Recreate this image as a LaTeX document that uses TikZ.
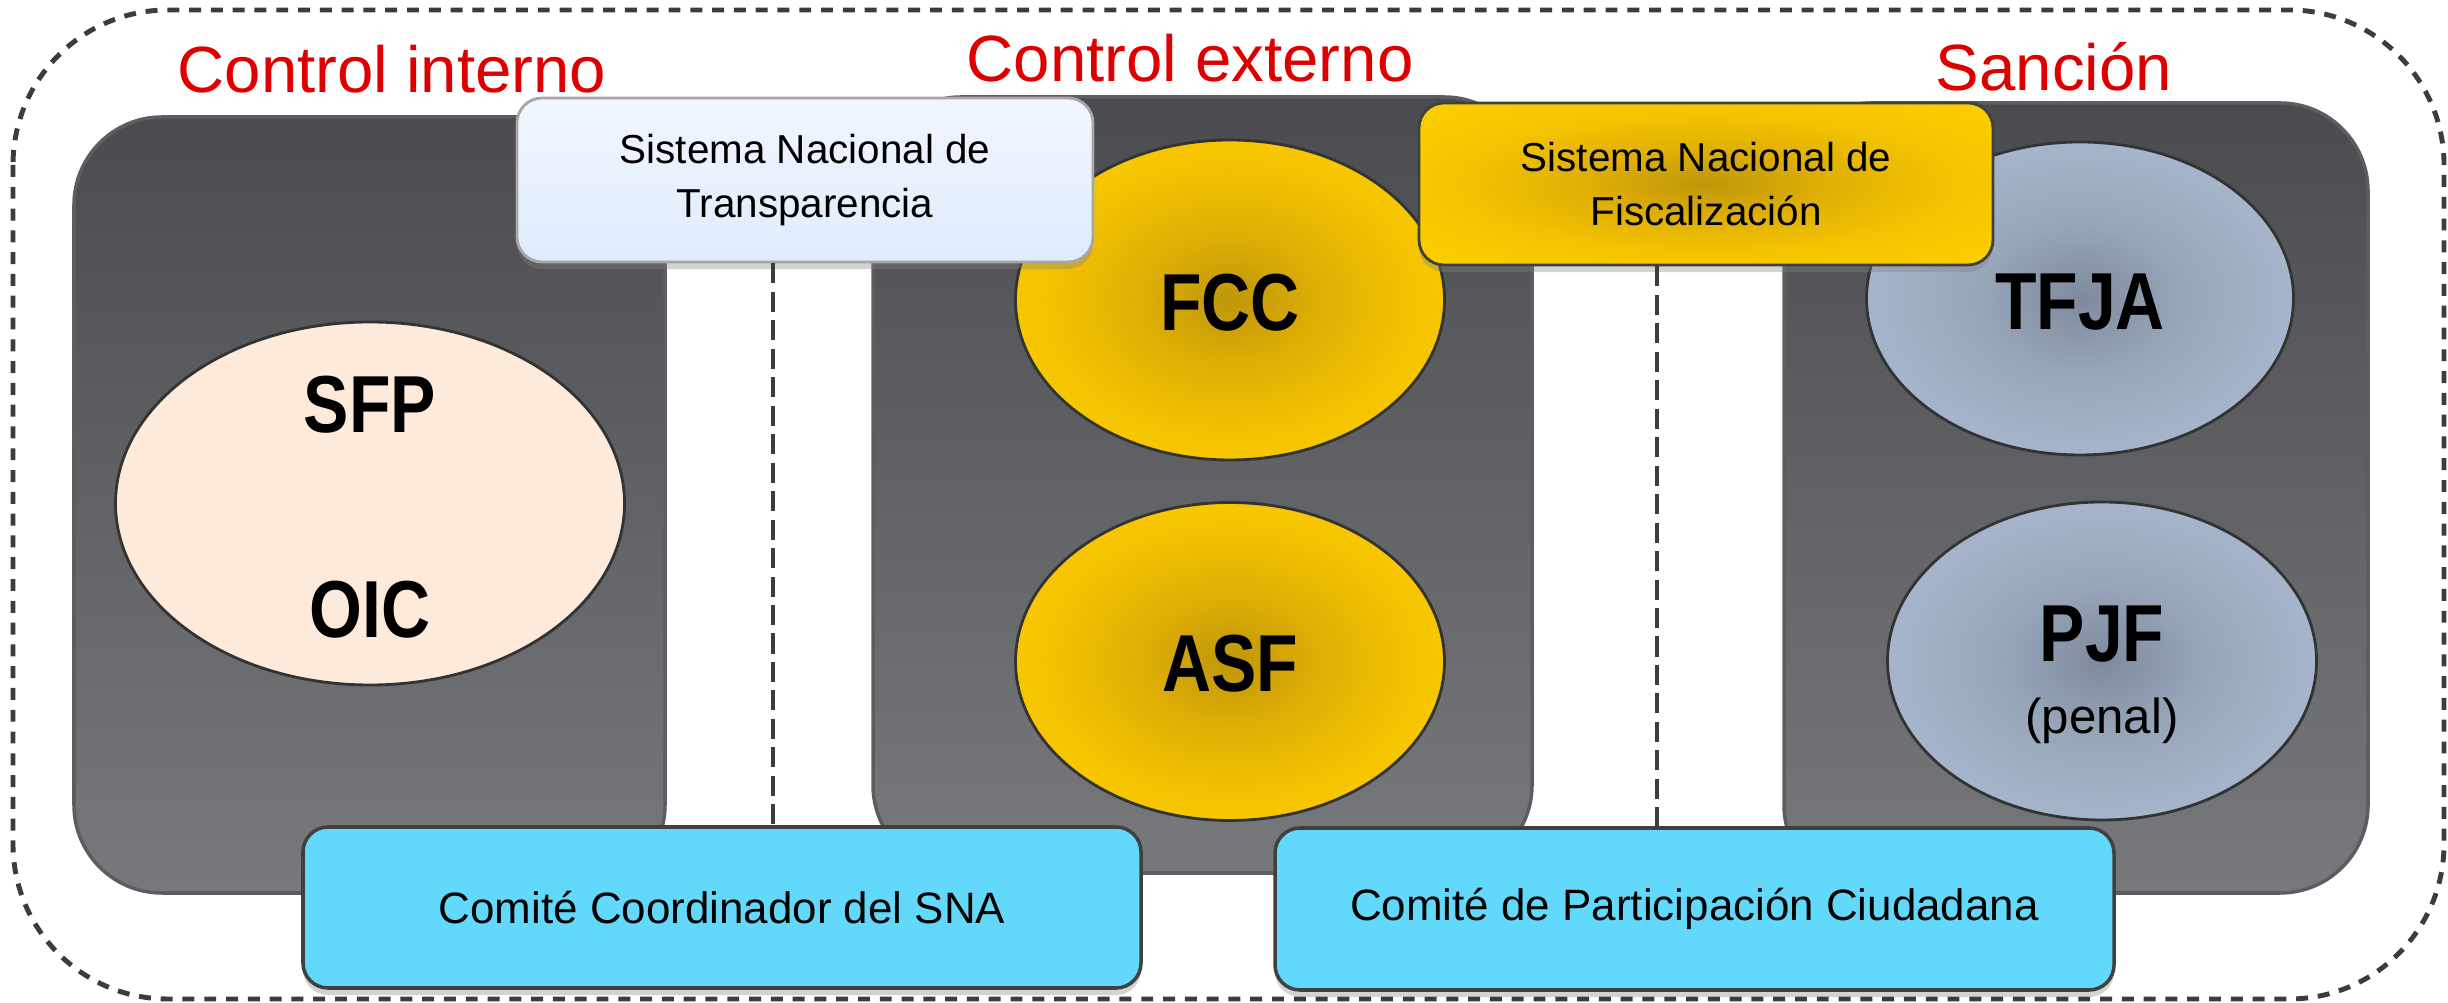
\documentclass[tikz,border=0pt]{standalone}
\usepackage{fontspec}
\setmainfont{Liberation Sans}
\newfontfamily\narrowsans[FakeStretch=0.84]{Liberation Sans}
\usepackage{tikz}
\usetikzlibrary{positioning,shapes.geometric,shadows}

\definecolor{rojoTitulo}{RGB}{222,0,0}
\definecolor{marco}{RGB}{60,60,60}
\definecolor{panelArriba}{RGB}{74,75,78}
\definecolor{panelAbajo}{RGB}{120,121,125}
\definecolor{panelBorde}{RGB}{92,93,96}
\definecolor{durazno}{RGB}{253,234,218}
\definecolor{oroOscuro}{RGB}{190,150,10}
\definecolor{oroMedio}{RGB}{222,174,5}
\definecolor{oroVivo}{RGB}{245,196,0}
\definecolor{oroClaro}{RGB}{255,210,0}
\definecolor{grisAzulOscuro}{RGB}{126,138,156}
\definecolor{grisAzulMedio}{RGB}{152,166,186}
\definecolor{grisAzulVivo}{RGB}{166,181,203}
\definecolor{grisAzulClaro}{RGB}{174,190,212}
\definecolor{celesteArriba}{RGB}{240,246,255}
\definecolor{celesteAbajo}{RGB}{224,235,251}
\definecolor{cian}{RGB}{98,217,251}

\pgfdeclareradialshading{oro}{\pgfpoint{0bp}{0bp}}{color(0bp)=(oroOscuro); color(10bp)=(oroMedio); color(22bp)=(oroVivo); color(38bp)=(oroClaro); color(50bp)=(oroClaro)}
\pgfdeclareradialshading{grisazul}{\pgfpoint{0bp}{0bp}}{color(0bp)=(grisAzulOscuro); color(12bp)=(grisAzulMedio); color(25bp)=(grisAzulVivo); color(40bp)=(grisAzulClaro); color(50bp)=(grisAzulClaro)}

\tikzset{
     heading/.style={anchor=base,text=rojoTitulo,font=\fontsize{18.6}{22}\selectfont},
     groupbox/.style={rectangle,rounded corners=0.88cm,draw=panelBorde,line width=1pt,top color=panelArriba,bottom color=panelAbajo},
     organo/.style={ellipse,draw=black!80,line width=0.8pt},
     sigla/.style={font=\narrowsans\bfseries\fontsize{23}{27}\selectfont},
     sistema/.style={rectangle,rounded corners=0.25cm,align=center,line width=0.8pt,font=\fontsize{11.5}{15.6}\selectfont,drop shadow={shadow xshift=0pt,shadow yshift=-2pt,opacity=.35}},
     comite/.style={rectangle,rounded corners=0.25cm,draw=black!75,line width=1pt,fill=cian,font=\fontsize{12.5}{15}\selectfont,drop shadow={shadow xshift=0pt,shadow yshift=-2pt,opacity=.35}},
     divider/.style={draw=marco,line width=0.9pt,dash pattern=on 5.7pt off 2.4pt}
     }

\begin{document}
\begin{tikzpicture}
            \useasboundingbox (0,0) rectangle (24.48,-10.03);
            % Outer frame
            \draw[marco,line width=1.4pt,dash pattern=on 3.4pt off 2.8pt,rounded corners=1.55cm] (0.13,-0.10) rectangle (24.44,-9.99);
            % Titles
            \node[heading] (tint) at (3.92,-0.93) {Control interno};
            \node[heading] (text) at (11.90,-0.82) {Control externo};
            \node[heading] (tsan) at (20.54,-0.91) {Sanción};
            % Place panels
            \node[groupbox,minimum width=5.91cm,minimum height=7.76cm] (pint) at (3.695,-5.05) {};
            \node[groupbox,minimum width=6.59cm,minimum height=7.76cm] (pext) at (12.025,-4.85) {};
            \node[groupbox,minimum width=5.84cm,minimum height=7.90cm] (psan) at (20.76,-4.98) {};
            % Place ovals
            \node[organo,fill=durazno,minimum width=5.09cm,minimum height=3.63cm] (sfp) at (3.70,-5.035) {};
            \node[organo,shading=oro,minimum width=4.29cm,minimum height=3.20cm] (fcc) at (12.30,-3.00) {};
            \node[organo,shading=oro,minimum width=4.29cm,minimum height=3.18cm] (asf) at (12.30,-6.615) {};
            \node[organo,shading=grisazul,minimum width=4.27cm,minimum height=3.13cm] (tfja) at (20.80,-2.985) {};
            \node[organo,shading=grisazul,minimum width=4.29cm,minimum height=3.18cm] (pjf) at (21.02,-6.61) {};
            % Oval labels
            \node[sigla] (sfptxt) at (3.70,-4.05) {SFP};
            \node[sigla] (oictxt) at (3.70,-6.10) {OIC};
            \node[sigla] (fcctxt) at (12.30,-3.03) {FCC};
            \node[sigla] (asftxt) at (12.30,-6.64) {ASF};
            \node[sigla] (tfjatxt) at (20.80,-3.02) {TFJA};
            \node[sigla] (pjftxt) at (21.02,-6.34) {PJF};
            \node[font=\fontsize{14}{16}\selectfont] (penal) at (21.02,-7.21) {(penal)};
            % Place systems and committees
            \node[sistema,draw=black!35,top color=celesteArriba,bottom color=celesteAbajo,minimum width=5.76cm,minimum height=1.64cm] (snt) at (8.05,-1.80) {Sistema Nacional de\\Transparencia};
            \node[sistema,draw=black!75,shading=oro,minimum width=5.74cm,minimum height=1.62cm] (snf) at (17.06,-1.84) {Sistema Nacional de\\Fiscalización};
            \node[comite,minimum width=8.38cm,minimum height=1.61cm] (ccsna) at (7.22,-9.075) {Comité Coordinador del SNA};
            \node[comite,minimum width=8.39cm,minimum height=1.62cm] (cpc) at (16.945,-9.09) {Comité de Participación Ciudadana};
            % Draw dividers
            \coordinate (sepA) at (7.73,0);
            \coordinate (sepB) at (16.57,0);
            \draw[divider] (snt.south -| sepA) -- (ccsna.north -| sepA);
            \draw[divider] (snf.south -| sepB) -- (cpc.north -| sepB);
        \end{tikzpicture}
\end{document}
